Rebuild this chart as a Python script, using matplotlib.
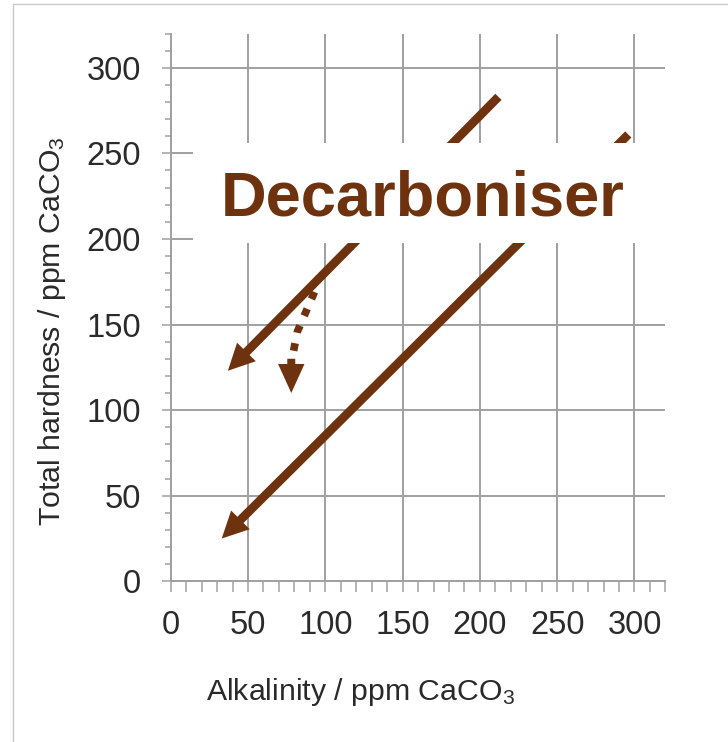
import matplotlib
matplotlib.use("Agg")
import matplotlib.pyplot as plt
from matplotlib.patches import Rectangle
from matplotlib.lines import Line2D
from matplotlib.ticker import MultipleLocator

plt.rcParams['font.family'] = ['Liberation Sans', 'DejaVu Sans']
plt.rcParams['mathtext.default'] = 'regular'

# arrows (alkalinity, hardness)
solid_start_x = [212, 296]
solid_start_y = [283, 261]
solid_end_x = [37, 33]
solid_end_y = [123, 25]

dotted_x = [93, 82, 78]
dotted_y = [169, 146, 128]
dotted_tip = (78, 110)

xticks = [0, 50, 100, 150, 200, 250, 300]
yticks = [0, 50, 100, 150, 200, 250, 300]

brown = '#6e320f'
grey = '#a0a0a0'
W, H = 728, 742

fig = plt.figure(figsize=(W / 100, H / 100), dpi=100)
ax = fig.add_axes([170.7 / W, 1 - 581.3 / H, (665.4 - 170.7) / W, (581.3 - 33.5) / H])
ax.set_xlim(0, 320)
ax.set_ylim(0, 320)
ax.set_xticks(xticks)
ax.set_yticks(yticks)
ax.xaxis.set_minor_locator(MultipleLocator(10))
ax.yaxis.set_minor_locator(MultipleLocator(10))
ax.grid(True, which='major', color=grey, lw=1.4)
ax.set_axisbelow(True)
for s in ['top', 'right']:
    ax.spines[s].set_visible(False)
for s in ['left', 'bottom']:
    ax.spines[s].set_color(grey)
    ax.spines[s].set_linewidth(1.4)
ax.tick_params(axis='both', which='both', color=grey, width=1.1, labelsize=23.5, labelcolor='#2a2a2a')
ax.tick_params(axis='x', which='major', length=8, pad=13)
ax.tick_params(axis='x', which='minor', length=8)
ax.tick_params(axis='y', which='major', length=6.5, pad=15)
ax.tick_params(axis='y', which='minor', length=4.5)

for x0, y0, x1, y1 in zip(solid_start_x, solid_start_y, solid_end_x, solid_end_y):
    ax.annotate('', xy=(x1, y1), xytext=(x0, y0), zorder=4,
                arrowprops=dict(arrowstyle='simple,head_length=1,head_width=1,tail_width=0.33',
                                mutation_scale=19, color=brown, lw=0, shrinkA=0, shrinkB=0))

ax.plot(dotted_x, dotted_y, color=brown, lw=5.5, linestyle=(0, (1, 1.4)),
        solid_capstyle='butt', dash_capstyle='butt', zorder=4)
ax.annotate('', xy=dotted_tip, xytext=(dotted_x[-1], dotted_y[-1] + 2), zorder=4,
            arrowprops=dict(arrowstyle='simple,head_length=1.1,head_width=1,tail_width=0.3',
                            mutation_scale=19, color=brown, lw=0, shrinkA=0, shrinkB=0))

# white label box over the upper arrows
box = Rectangle((193 / W, 1 - 243 / H), (720 - 193) / W, 100 / H, transform=fig.transFigure,
                facecolor='white', edgecolor='none', zorder=5, clip_on=False)
ax.add_patch(box)
fig.text(423 / W, 1 - 216 / H, 'Decarboniser', ha='center', va='baseline',
         fontsize=45.5, fontweight='bold', color=brown, zorder=6)

fig.text(360 / W, 1 - 692 / H, 'Alkalinity / ppm CaCO$_3$', ha='center', va='center',
         fontsize=21.8, color='#2a2a2a')
fig.text(52 / W, 1 - 331 / H, 'Total hardness / ppm CaCO$_3$', ha='center', va='center',
         rotation=90, fontsize=21.8, color='#2a2a2a')

# slide frame
fig.add_artist(Line2D([13 / W, 13 / W], [0, 1 - 4 / H], color='#c8c8c8', lw=1))
fig.add_artist(Line2D([13 / W, 1], [1 - 4 / H, 1 - 4 / H], color='#c8c8c8', lw=1))

fig.savefig('out.png', dpi=100)
